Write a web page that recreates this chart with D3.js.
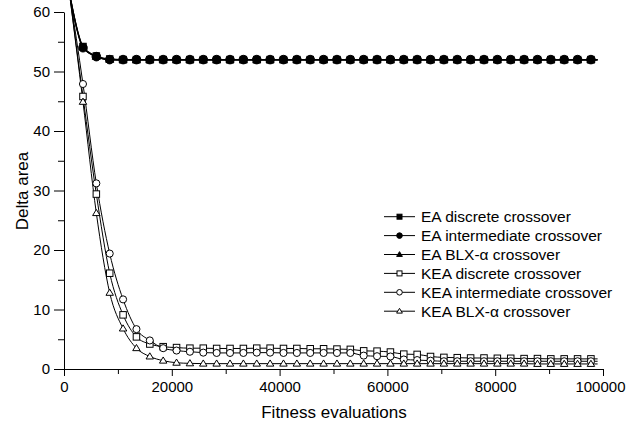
<!DOCTYPE html>
<html>
<head>
<meta charset="utf-8">
<script src="https://cdn.jsdelivr.net/npm/d3@7"></script>
<style>
  body { margin: 0; background: #fff; }
  text { font-family: "Liberation Sans", Arial, sans-serif; fill: #000; }
</style>
</head>
<body>
<script>
'use strict';

// fitness evaluations at which the curves are sampled (first / last: line only)
const evals = [1040, 3520, 6000, 8480, 10960, 13440, 15920, 18400, 20880, 23360,
  25840, 28320, 30800, 33280, 35760, 38240, 40720, 43200, 45680, 48160,
  50640, 53120, 55600, 58080, 60560, 63040, 65520, 68000, 70480, 72960,
  75440, 77920, 80400, 82880, 85360, 87840, 90320, 92800, 95280, 97760,
  99000];

const eaDiscrete = [63, 54.2, 52.6, 52.1, 52.0, 52.0, 52.0, 52.0, 52.0, 52.0,
  52.0, 52.0, 52.0, 52.0, 52.0, 52.0, 52.0, 52.0, 52.0, 52.0,
  52.0, 52.0, 52.0, 52.0, 52.0, 52.0, 52.0, 52.0, 52.0, 52.0,
  52.0, 52.0, 52.0, 52.0, 52.0, 52.0, 52.0, 52.0, 52.0, 52.0,
  52.0];
const eaIntermediate = [63, 54.0, 52.5, 52.0, 52.0, 52.0, 52.0, 52.0, 52.0, 52.0,
  52.0, 52.0, 52.0, 52.0, 52.0, 52.0, 52.0, 52.0, 52.0, 52.0,
  52.0, 52.0, 52.0, 52.0, 52.0, 52.0, 52.0, 52.0, 52.0, 52.0,
  52.0, 52.0, 52.0, 52.0, 52.0, 52.0, 52.0, 52.0, 52.0, 52.0,
  52.0];
const eaBlx = [63, 54.1, 52.5, 52.0, 51.9, 51.9, 51.9, 51.9, 51.9, 51.9,
  51.9, 51.9, 51.9, 51.9, 51.9, 51.9, 51.9, 51.9, 51.9, 51.9,
  51.9, 51.9, 51.9, 51.9, 51.9, 51.9, 51.9, 51.9, 51.9, 51.9,
  51.9, 51.9, 51.9, 51.9, 51.9, 51.9, 51.9, 51.9, 51.9, 51.9,
  51.9];
const keaDiscrete = [63, 45.8, 29.4, 16.1, 9.1, 5.4, 4.2, 3.75, 3.6, 3.5,
  3.5, 3.45, 3.45, 3.45, 3.5, 3.5, 3.45, 3.45, 3.4, 3.4,
  3.35, 3.3, 3.05, 3.0, 2.85, 2.5, 2.45, 2.1, 1.95, 1.9,
  1.85, 1.85, 1.8, 1.8, 1.75, 1.75, 1.7, 1.7, 1.7, 1.7,
  1.7];
const keaIntermediate = [63, 47.9, 31.2, 19.4, 11.7, 6.7, 4.8, 3.5, 3.1, 2.9,
  2.75, 2.7, 2.7, 2.7, 2.75, 2.75, 2.7, 2.7, 2.7, 2.7,
  2.7, 2.7, 2.25, 2.15, 2.1, 1.6, 1.5, 1.4, 1.3, 1.3,
  1.3, 1.3, 1.3, 1.3, 1.3, 1.3, 1.3, 1.3, 1.3, 1.3,
  1.3];
const keaBlx = [63, 44.9, 26.2, 12.8, 6.8, 3.5, 2.1, 1.4, 1.05, 0.95,
  0.9, 0.9, 0.9, 0.9, 0.9, 0.9, 0.9, 0.9, 0.9, 0.9,
  0.9, 0.9, 0.9, 0.9, 0.9, 0.9, 0.9, 0.9, 0.9, 0.9,
  0.9, 0.9, 0.9, 0.9, 0.9, 0.85, 0.85, 0.85, 0.85, 0.85,
  0.85];

const seriesNames = ["EA discrete crossover", "EA intermediate crossover", "EA BLX-\u03b1 crossover",
  "KEA discrete crossover", "KEA intermediate crossover", "KEA BLX-\u03b1 crossover"];

const xTicks = [0, 20000, 40000, 60000, 80000, 100000];
const yTicks = [0, 10, 20, 30, 40, 50, 60];

(function () {
  const width = 626, height = 430;
  const svg = d3.select("body").append("svg")
    .attr("width", width)
    .attr("height", height);

  const x = d3.scaleLinear().domain([0, 100000]).range([64, 603]);
  const y = d3.scaleLinear().domain([0, 60]).range([369, 12]);

  // minor ticks first, then major ticks with labels
  svg.append("g")
    .attr("transform", "translate(0,369)")
    .call(d3.axisBottom(x).tickValues(d3.range(10000, 100000, 20000)).tickSize(5).tickFormat(""))
    .call(g => g.select(".domain").remove());
  const xAxis = svg.append("g")
    .attr("transform", "translate(0,369)")
    .call(d3.axisBottom(x).tickValues(xTicks).tickSize(7).tickSizeOuter(0).tickPadding(5).tickFormat(d3.format("d")));

  svg.append("g")
    .attr("transform", "translate(64,0)")
    .call(d3.axisLeft(y).tickValues(d3.range(5, 60, 10)).tickSize(6).tickFormat(""))
    .call(g => g.select(".domain").remove());
  svg.append("g")
    .attr("transform", "translate(64,0)")
    .call(d3.axisLeft(y).tickValues(yTicks).tickSize(10).tickSizeOuter(0).tickPadding(4));

  svg.selectAll(".tick line, .domain").attr("stroke", "#000").attr("stroke-width", 1);
  svg.selectAll(".tick text").style("font-size", "15px").style("font-family", "'Liberation Sans', Arial, sans-serif");

  // last x label would run off the right edge: pull it back inside
  xAxis.selectAll(".tick text")
    .filter(d => d === 100000)
    .attr("text-anchor", "end")
    .attr("x", width - 1 - x(100000));

  // axis titles
  svg.append("text")
    .attr("x", 334)
    .attr("y", 418)
    .attr("text-anchor", "middle")
    .style("font-size", "17px")
    .text("Fitness evaluations");

  svg.append("text")
    .attr("transform", "translate(28,191)rotate(-90)")
    .attr("text-anchor", "middle")
    .style("font-size", "17px")
    .text("Delta area");

  // series: line + marker shape + filled or not
  const series = [
    { values: eaDiscrete, shape: "square", filled: true, size: 6.5 },
    { values: eaBlx, shape: "triangle", filled: true, size: 7 },
    { values: eaIntermediate, shape: "circle", filled: true, size: 8 },
    { values: keaDiscrete, shape: "square", filled: false, size: 6.5 },
    { values: keaIntermediate, shape: "circle", filled: false, size: 6.5 },
    { values: keaBlx, shape: "triangle", filled: false, size: 6.5 }
  ];
  const legendOrder = [0, 2, 1, 3, 4, 5];

  const line = d3.line()
    .x((d, i) => x(evals[i]))
    .y(d => y(d))
    .curve(d3.curveMonotoneX);

  function drawMarker(g, shape, filled, cx, cy, s) {
    let m;
    if (shape === "square") {
      m = g.append("rect").attr("x", cx - s / 2).attr("y", cy - s / 2).attr("width", s).attr("height", s);
    } else if (shape === "circle") {
      m = g.append("circle").attr("cx", cx).attr("cy", cy).attr("r", s / 2 + 0.3);
    } else {
      const h = s * 0.95;
      const w = s * 1.15;
      m = g.append("path").attr("d",
        "M" + cx + "," + (cy - h * 0.6) +
        "L" + (cx + w / 2) + "," + (cy + h * 0.4) +
        "L" + (cx - w / 2) + "," + (cy + h * 0.4) + "Z");
    }
    m.attr("fill", filled ? "#000" : "#fff")
      .attr("stroke", "#000")
      .attr("stroke-width", 1);
  }

  series.forEach(s => {
    svg.append("path")
      .datum(s.values)
      .attr("fill", "none")
      .attr("stroke", "#000")
      .attr("stroke-width", s.filled ? 1.3 : 1)
      .attr("d", line);
  });

  series.forEach(s => {
    const g = svg.append("g");
    s.values.forEach((v, i) => {
      if (i === 0 || i === s.values.length - 1) return;
      drawMarker(g, s.shape, s.filled, x(evals[i]), y(v), s.size);
    });
  });

  // legend
  const legend = svg.append("g");
  legendOrder.forEach((si, row) => {
    const s = series[si];
    const cy = 216.7 + row * 18.9;
    legend.append("line")
      .attr("x1", 384).attr("x2", 415)
      .attr("y1", cy).attr("y2", cy)
      .attr("stroke", "#000").attr("stroke-width", 1);
    drawMarker(legend, s.shape, s.filled, 399.5, cy, 5);
    legend.append("text")
      .attr("x", 421)
      .attr("y", cy + 5.5)
      .style("font-size", "15.5px")
      .text(seriesNames[row]);
  });
})();
</script>
</body>
</html>
